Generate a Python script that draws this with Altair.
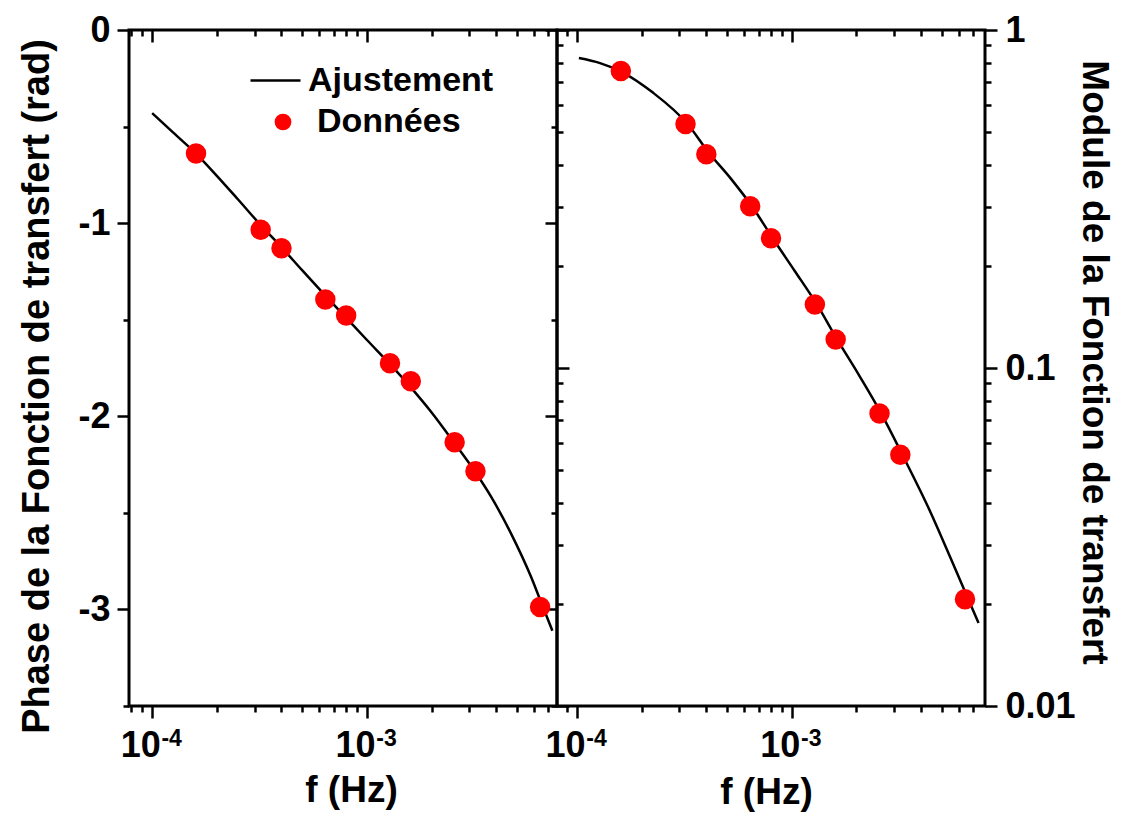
import altair as alt
import pandas as pd

# ---------------- data ----------------
freq = [1.6e-4, 3.2e-4, 4.0e-4, 6.4e-4, 8.0e-4, 1.28e-3, 1.6e-3, 2.56e-3, 3.2e-3, 6.4e-3]
phase = [-0.64, -1.034, -1.13, -1.395, -1.478, -1.726, -1.819, -2.134, -2.284, -2.987]
module = [0.756, 0.527, 0.429, 0.301, 0.242, 0.154, 0.1215, 0.0733, 0.0554, 0.0207]

fit_phase_f = [1.0e-4, 1.25e-4, 1.6e-4, 2.0e-4, 2.5e-4, 3.2e-4, 4.0e-4, 5.0e-4, 6.4e-4,
               8.0e-4, 1.0e-3, 1.28e-3, 1.6e-3, 2.0e-3, 2.56e-3, 3.2e-3, 3.8e-3, 4.7e-3,
               5.8e-3, 6.4e-3, 7.3e-3]
fit_phase = [-0.43, -0.53, -0.64, -0.755, -0.875, -1.01, -1.125, -1.245, -1.375,
             -1.49, -1.605, -1.73, -1.85, -1.98, -2.14, -2.29, -2.42, -2.61,
             -2.83, -2.95, -3.11]

fit_mod_f = [1.02e-4, 1.28e-4, 1.62e-4, 2.24e-4, 3.27e-4, 4.09e-4, 5.19e-4, 6.57e-4,
             8.15e-4, 1.03e-3, 1.31e-3, 1.62e-3, 2.06e-3, 2.61e-3, 3.27e-3, 4.4e-3,
             5.47e-3, 6.5e-3, 7.4e-3]
fit_mod = [0.826, 0.798, 0.751, 0.655, 0.527, 0.435, 0.364, 0.299,
           0.242, 0.194, 0.154, 0.122, 0.0950, 0.0733, 0.0554, 0.0377,
           0.0275, 0.0213, 0.0176]

x_major = [1e-4, 1e-3]
x_minor = [8e-5, 9e-5, 2e-4, 3e-4, 4e-4, 5e-4, 6e-4, 7e-4, 8e-4, 9e-4,
           2e-3, 3e-3, 4e-3, 5e-3, 6e-3, 7e-3]
ph_major = [0, -1, -2, -3]
ph_minor = [-0.5, -1.5, -2.5, -3.5]
mod_major = [1, 0.1, 0.01]
mod_minor = [0.9, 0.8, 0.7, 0.6, 0.5, 0.4, 0.3, 0.2,
             0.09, 0.08, 0.07, 0.06, 0.05, 0.04, 0.03, 0.02]

legend_fit = "Ajustement"
legend_data = "Données"

pts = pd.DataFrame({"f": freq, "phase": phase, "module": module, "s": legend_data})
fit_p = pd.DataFrame({"f": fit_phase_f, "phase": fit_phase, "s": legend_fit})
fit_m = pd.DataFrame({"f": fit_mod_f, "module": fit_mod, "s": legend_fit})

# ---------------- layout ----------------
W = 428
H = 676
FONT = "Liberation Sans, Arial, sans-serif"
MAJ = 12
MIN = 6

xl_dom = [7.8e-5, 7.67e-3]
xr_dom = [8.07e-5, 7.93e-3]
base_lab = "'10'"
sup_lab = "datum.value < 0.0005 ? '-4' : '-3'"


def xs(dom):
    return alt.Scale(type="log", domain=dom, nice=False)


def ax(orient, values, size, offset=0, **kw):
    d = dict(orient=orient, values=values, tickSize=size, offset=offset,
             domain=False, grid=False, ticks=True)
    if "labels" not in kw:
        d["labels"] = False
    if "title" not in kw:
        d["title"] = None
    d.update(kw)
    return alt.Axis(**d)


def sup_axis():
    return ax("bottom", x_major, MAJ, labels=True, labelExpr=sup_lab, tickOpacity=0,
              labelPadding=9, labelFontSize=23, labelOffset=19)


# ----- left panel: phase -----
ysl = alt.Scale(domain=[-3.5, 0], nice=False, zero=False)
ph_lab = "datum.value == 0 ? '0' : '-' + abs(datum.value)"

l_line = alt.Chart(fit_p).mark_line(strokeWidth=2.5, interpolate="monotone").encode(
    x=alt.X("f:Q", scale=xs(xl_dom),
            axis=ax("bottom", x_major, MAJ, labels=True, labelExpr=base_lab,
                    labelPadding=10, labelOffset=-12, title="f (Hz)", titleX=222,
                    titleY=95, titleBaseline="alphabetic")),
    y=alt.Y("phase:Q", scale=ysl,
            axis=ax("left", ph_major, MAJ, labels=True, labelExpr=ph_lab,
                    labelPadding=7,
                    title="Phase de la Fonction de transfert (rad)",
                    titleX=-81, titleY=356, titleFontSize=38,
                    titleBaseline="alphabetic")),
    stroke=alt.Stroke("s:N", scale=alt.Scale(domain=[legend_fit], range=["black"]),
                      legend=alt.Legend(title=None, orient="none", legendX=120, legendY=24,
                                        symbolType="stroke", symbolSize=2500,
                                        symbolStrokeWidth=2.5, labelOffset=6,
                                        labelLimit=500,
                                        labelFont=FONT, labelFontSize=34,
                                        labelFontWeight="bold", labelColor="black",
                                        padding=0)),
)
l_pts = alt.Chart(pts).mark_circle(size=420, opacity=1).encode(
    x=alt.X("f:Q", scale=xs(xl_dom), axis=ax("bottom", x_minor, MIN)),
    y=alt.Y("phase:Q", scale=ysl, axis=ax("left", ph_minor, MIN)),
    fill=alt.Fill("s:N", scale=alt.Scale(domain=[legend_data], range=["red"]),
                  legend=alt.Legend(title=None, orient="none", legendX=137, legendY=75,
                                    symbolType="circle", symbolSize=280,
                                    labelOffset=17, labelLimit=500,
                                    labelFont=FONT, labelFontSize=34,
                                    labelFontWeight="bold", labelColor="black",
                                    padding=0)),
)
l_mir1 = alt.Chart(pts).mark_point(opacity=0).encode(
    x=alt.X("f:Q", scale=xs(xl_dom), axis=ax("bottom", x_major, MAJ, offset=-H)),
    y=alt.Y("phase:Q", scale=ysl, axis=ax("left", ph_major, MAJ, offset=-W)),
)
l_mir2 = alt.Chart(pts).mark_point(opacity=0).encode(
    x=alt.X("f:Q", scale=xs(xl_dom), axis=ax("bottom", x_minor, MIN, offset=-H)),
    y=alt.Y("phase:Q", scale=ysl, axis=ax("left", ph_minor, MIN, offset=-W)),
)
l_sup = alt.Chart(pts).mark_point(opacity=0).encode(
    x=alt.X("f:Q", scale=xs(xl_dom), axis=sup_axis()),
    y=alt.Y("phase:Q", scale=ysl, axis=None),
)
left = alt.layer(l_line, l_pts, l_mir1, l_mir2, l_sup).resolve_axis(
    x="independent", y="independent").properties(width=W, height=H)

# ----- right panel: module -----
ysr = alt.Scale(type="log", domain=[0.01, 1], nice=False)
mod_lab = "'' + datum.value"

r_line = alt.Chart(fit_m).mark_line(strokeWidth=2.5, color="black",
                                    interpolate="monotone").encode(
    x=alt.X("f:Q", scale=xs(xr_dom),
            axis=ax("bottom", x_major, MAJ, labels=True, labelExpr=base_lab,
                    labelPadding=10, labelOffset=-12, title="f (Hz)", titleX=209,
                    titleY=97, titleBaseline="alphabetic")),
    y=alt.Y("module:Q", scale=ysr,
            axis=ax("right", mod_major, MAJ, labels=True, labelExpr=mod_lab,
                    labelPadding=8, title="Module de la Fonction de transfert",
                    titleX=97, titleY=332, titleAngle=90, titleBaseline="alphabetic")),
)
r_pts = alt.Chart(pts).mark_circle(size=420, opacity=1, color="red").encode(
    x=alt.X("f:Q", scale=xs(xr_dom), axis=ax("bottom", x_minor, MIN)),
    y=alt.Y("module:Q", scale=ysr, axis=ax("right", mod_minor, MIN)),
)
r_mir1 = alt.Chart(pts).mark_point(opacity=0).encode(
    x=alt.X("f:Q", scale=xs(xr_dom), axis=ax("bottom", x_major, MAJ, offset=-H)),
    y=alt.Y("module:Q", scale=ysr, axis=ax("right", mod_major, MAJ, offset=-W)),
)
r_mir2 = alt.Chart(pts).mark_point(opacity=0).encode(
    x=alt.X("f:Q", scale=xs(xr_dom), axis=ax("bottom", x_minor, MIN, offset=-H)),
    y=alt.Y("module:Q", scale=ysr, axis=ax("right", mod_minor, MIN, offset=-W)),
)
r_sup = alt.Chart(pts).mark_point(opacity=0).encode(
    x=alt.X("f:Q", scale=xs(xr_dom), axis=sup_axis()),
    y=alt.Y("module:Q", scale=ysr, axis=None),
)
right = alt.layer(r_line, r_pts, r_mir1, r_mir2, r_sup).resolve_axis(
    x="independent", y="independent").properties(width=W, height=H)

chart = alt.hconcat(left, right, spacing=0, bounds="flush").properties(
    padding={"left": 16, "top": 10, "right": 5, "bottom": 5},
    background="white",
).configure_view(
    stroke="black", strokeWidth=3
).configure_axis(
    labelFont=FONT, labelFontSize=36, labelFontWeight="bold", labelColor="black",
    titleFont=FONT, titleFontSize=37, titleFontWeight="bold", titleColor="black",
    tickColor="black", tickWidth=2.5,
)

chart.save("out.html", embed_options={"renderer": "svg", "actions": False})
